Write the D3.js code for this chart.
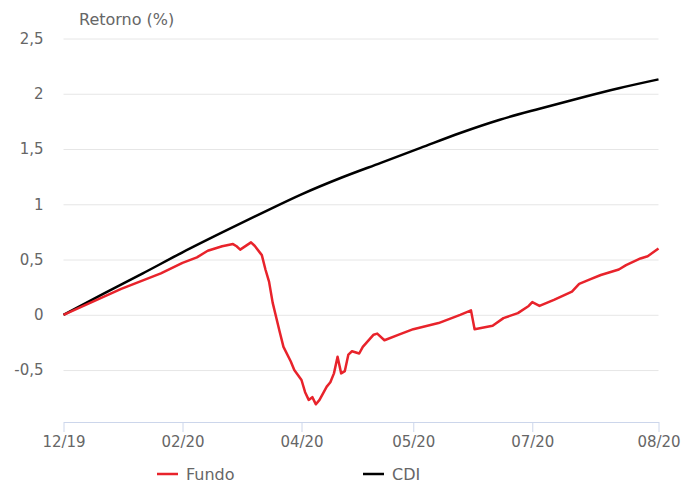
<!DOCTYPE html>
<html>
<head>
<meta charset="utf-8">
<script src="https://cdn.jsdelivr.net/npm/d3@7"></script>
<style>
  body { margin: 0; background: #fff; }
  svg text { font-family: "DejaVu Sans", sans-serif; fill: #666; }
</style>
</head>
<body>
<div id="chart"></div>
<script>
// índice do pregão (dia útil) a partir de 12/19
const fundoDia = [0, 16, 27, 33, 37, 40, 44, 47, 48, 49, 52, 53, 55, 56, 57, 58, 60, 61, 63, 64,
    66, 67, 68, 69, 70, 71, 73, 74, 75, 76, 77, 78, 79, 80, 82, 83, 86, 87, 89, 93,
    97, 104, 110, 113, 114, 119, 122, 126, 129, 130, 132, 136, 141, 143, 146, 149, 154, 156, 160, 162, 165];
const fundo = [0, 0.235, 0.375, 0.47, 0.52, 0.58, 0.62, 0.64, 0.62, 0.59, 0.655, 0.625, 0.54, 0.41, 0.30, 0.11, -0.16, -0.29, -0.42, -0.50,
    -0.59, -0.70, -0.77, -0.745, -0.81, -0.77, -0.65, -0.61, -0.53, -0.38, -0.53, -0.51, -0.36, -0.33, -0.35, -0.29, -0.18, -0.17, -0.23, -0.18,
    -0.13, -0.075, 0.0, 0.04, -0.13, -0.10, -0.03, 0.015, 0.08, 0.115, 0.08, 0.135, 0.21, 0.28, 0.32, 0.36, 0.41, 0.45, 0.51, 0.53, 0.60];

const cdiDia = [0, 11, 22, 33, 44, 55, 66, 77, 88, 99, 110, 121, 132, 143, 154, 165];
const cdi = [0, 0.19, 0.375, 0.565, 0.745, 0.92, 1.09, 1.24, 1.375, 1.51, 1.645, 1.765, 1.865, 1.96, 2.05, 2.13];

const tickDia = [0, 33, 66, 97, 130, 165];
const tickLabels = ["12/19", "02/20", "04/20", "05/20", "07/20", "08/20"];
const yTicks = [-0.5, 0, 0.5, 1, 1.5, 2, 2.5];

const width = 696;
const height = 482;
const margin = { top: 38.5, right: 37.5, bottom: 60, left: 63.5 };

const x = d3.scaleLinear()
    .domain([0, 165])
    .range([margin.left, width - margin.right]);

const y = d3.scaleLinear()
    .domain([-0.97, 2.5])
    .range([height - margin.bottom, margin.top]);

const svg = d3.select("#chart").append("svg")
    .attr("width", width)
    .attr("height", height);

// grade + rótulos do eixo y
const yAxis = g => g
    .attr("transform", `translate(${margin.left},0)`)
    .call(d3.axisLeft(y)
        .tickValues(yTicks)
        .tickSize(-(width - margin.right - margin.left))
        .tickPadding(20)
        .tickFormat(d => String(d).replace(".", ",")))
    .call(g => g.select(".domain").remove())
    .call(g => g.selectAll(".tick line").attr("stroke", "#e6e6e6"))
    .call(g => g.selectAll(".tick text")
        .attr("font-size", 15)
        .attr("fill", "#666"));

svg.append("g").call(yAxis);

const xAxis = g => g
    .attr("transform", `translate(0,${height - margin.bottom})`)
    .call(d3.axisBottom(x)
        .tickValues(tickDia)
        .tickFormat((d, i) => tickLabels[i])
        .tickSize(10)
        .tickSizeOuter(0)
        .tickPadding(4))
    .call(g => g.select(".domain").attr("stroke", "#ccd6eb"))
    .call(g => g.selectAll(".tick line").attr("stroke", "#ccd6eb"))
    .call(g => g.selectAll(".tick text")
        .attr("font-size", 15)
        .attr("fill", "#666"));

svg.append("g").call(xAxis);

svg.append("text")
    .attr("x", 79)
    .attr("y", 25)
    .attr("font-size", 16)
    .text("Retorno (%)");

const line = d3.line()
    .x(d => x(d[0]))
    .y(d => y(d[1]));

svg.append("path")
    .datum(d3.zip(cdiDia, cdi))
    .attr("fill", "none")
    .attr("stroke", "#000")
    .attr("stroke-width", 2.5)
    .attr("stroke-linejoin", "round")
    .attr("d", line.curve(d3.curveMonotoneX));

svg.append("path")
    .datum(d3.zip(fundoDia, fundo))
    .attr("fill", "none")
    .attr("stroke", "#e8232b")
    .attr("stroke-width", 2.5)
    .attr("stroke-linejoin", "round")
    .attr("d", line.curve(d3.curveLinear));

// legenda
const legend = [
    { name: "Fundo", color: "#e8232b", x: 157 },
    { name: "CDI", color: "#000", x: 363 }
];

const lg = svg.append("g")
    .selectAll("g")
    .data(legend)
    .join("g")
    .attr("transform", d => `translate(${d.x},474)`);

lg.append("line")
    .attr("x1", 0).attr("x2", 21)
    .attr("stroke", d => d.color)
    .attr("stroke-width", 2.5);

lg.append("text")
    .attr("x", 29)
    .attr("y", 5.5)
    .attr("font-size", 16)
    .text(d => d.name);
</script>
</body>
</html>
